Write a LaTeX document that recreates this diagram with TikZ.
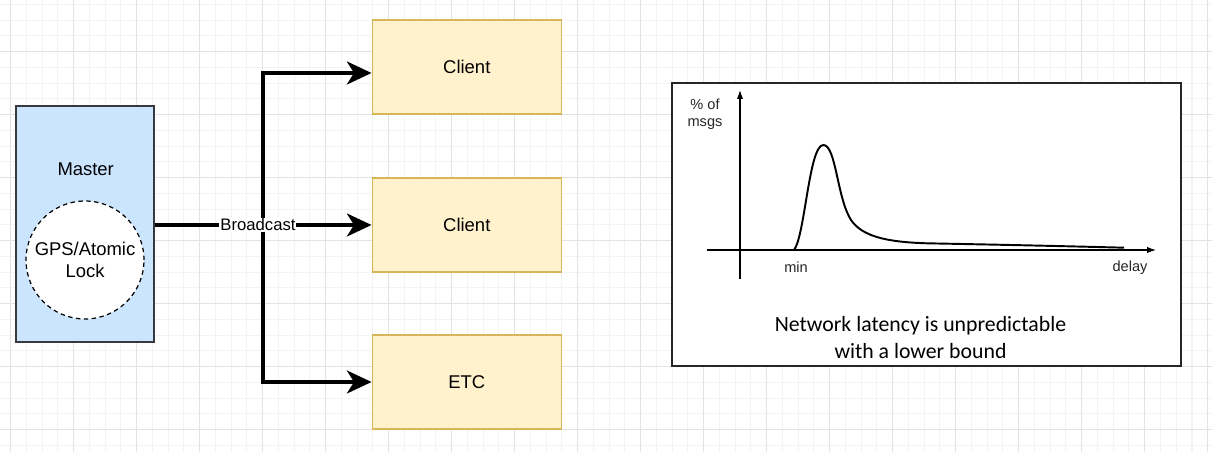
\documentclass[tikz,border=0pt]{standalone}
\usepackage{fontspec}
\setmainfont{Liberation Sans}
\newfontfamily\carlito{Carlito}
\usetikzlibrary{arrows.meta, positioning, calc}
\definecolor{masterblue}{HTML}{CCE5FF}
\definecolor{masterline}{HTML}{36393D}
\definecolor{clientfill}{HTML}{FFF2CC}
\definecolor{clientline}{HTML}{D6B656}
\definecolor{gridminor}{HTML}{F3F3F3}
\definecolor{gridmajor}{HTML}{E3E3E3}

\tikzset{
  boxtext/.style={font=\fontsize{10.5}{12.6}\selectfont},
  clientbox/.style={boxtext, draw=clientline, fill=clientfill, line width=0.85pt,
    minimum width=3.78cm, minimum height=1.88cm},
  bcast/.style={line width=2.3pt, -{Stealth[length=14pt, width=13pt, inset=4pt]}},
  axisline/.style={line width=0.6pt, -{Latex[length=5pt, width=3.5pt]}},
  plotlabel/.style={font=\fontsize{8.3}{9.5}\selectfont, text=black!85, inner sep=0pt},
}

\begin{document}
\begin{tikzpicture}[x=0.02cm, y=-0.02cm]
  \useasboundingbox (0,0) rectangle (1212,452);

  % Background grid
  \foreach \k in {-1,...,76}
    \draw[gridminor, line width=0.6pt] ({10.7+15.75*\k},0) -- ++(0,452);
  \foreach \k in {-3,...,25}
    \draw[gridminor, line width=0.6pt] (0,{51.7+15.75*\k}) -- ++(1212,0);
  \foreach \k in {0,...,19}
    \draw[gridmajor, line width=0.6pt] ({10.7+63*\k},0) -- ++(0,452);
  \foreach \k in {-1,...,6}
    \draw[gridmajor, line width=0.6pt] (0,{51.7+63*\k}) -- ++(1212,0);

  % Master with its clock
  \node[draw=masterline, fill=masterblue, line width=0.85pt,
        minimum width=2.76cm, minimum height=4.72cm] (master) at (85,224) {};
  \node[boxtext] (mastertitle) at (85.7,169) {Master};
  \node[boxtext, circle, draw=black, fill=white, dashed, line width=0.7pt,
        dash pattern=on 2.5pt off 2pt, minimum size=2.36cm, align=center,
        inner sep=0pt] (gps) at (85,260) {GPS/Atomic\\Lock};

  % Clients
  \node[clientbox] (client1) at (466.8,67) {Client};
  \node[clientbox] (client2) at (466.8,225) {Client};
  \node[clientbox] (client3) at (466.8,382) {ETC};

  % Broadcast arrows
  \coordinate (split) at (263.3,225);
  \draw[bcast] (split) |- ($(client1.west)+(0,6)$);
  \draw[bcast] (split) |- (client3.west);
  \draw[bcast] (master.east |- client2.west) -- node[pos=0.476, fill=white, inner sep=0.5pt,
        font=\fontsize{9.5}{11}\selectfont] (bcastlabel) {Broadcast} (client2.west);

  % Latency plot
  \node[draw=black!85, fill=white, line width=1.1pt,
        minimum width=10.18cm, minimum height=5.66cm] (panel) at (926.2,224.2) {};
  \draw[axisline] (740,279.3) -- (740,90);
  \draw[axisline] (706.7,250) -- (1156,250);
  \draw[line width=1.1pt] (794,250) .. controls (805,236) and (809,145) .. (823.3,145)
    .. controls (836,145) and (837,198) .. (851,220)
    .. controls (862,236) and (885,242) .. (926.7,243.3)
    .. controls (990,244.5) and (1060,246) .. (1124,247.7);
  \node[plotlabel, align=center] (ylabel) at (705,114.5) {\% of\\msgs};
  \node[plotlabel] (minlabel) at (796,267.7) {min};
  \node[plotlabel] (xlabel) at (1130,267.7) {delay};
  \node[font=\carlito\fontsize{12.4}{15.1}\selectfont, align=center] (caption)
        at (920.5,337.3) {Network latency is unpredictable\\with a lower bound};
\end{tikzpicture}
\end{document}
